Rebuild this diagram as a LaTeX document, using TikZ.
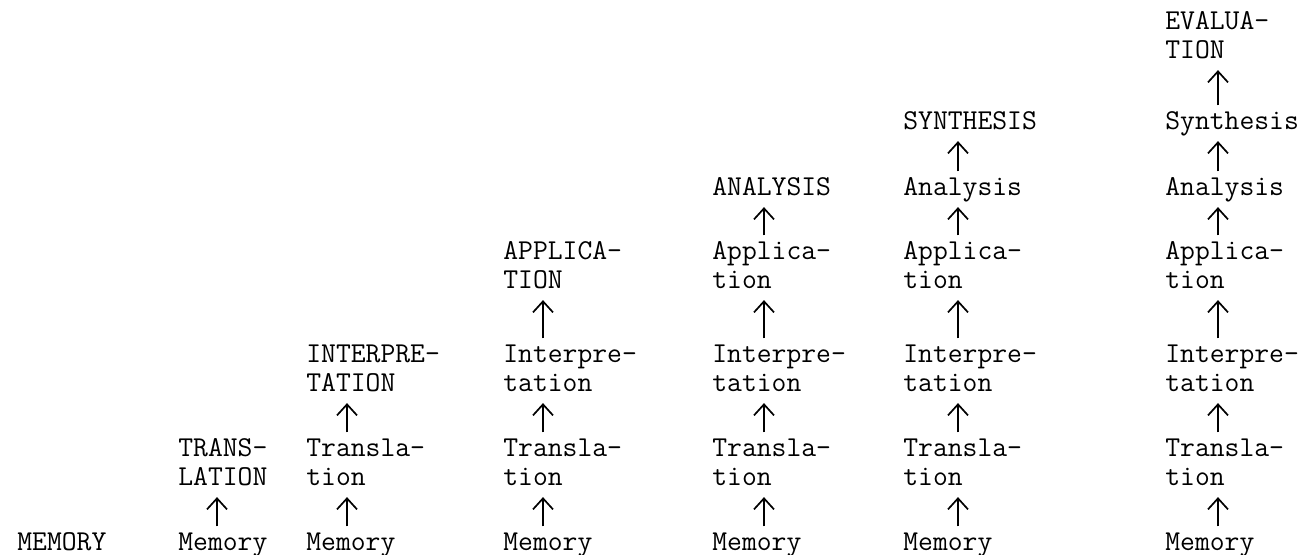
\documentclass[tikz,border=0pt]{standalone}
\usepackage{fontspec}
\usetikzlibrary{arrows.meta}
\newcommand\twoline[1]{\begin{tabular}[t]{@{}l@{}}#1\end{tabular}}
\begin{document}
\begin{tikzpicture}[x=0.5pt,y=-0.5pt,
  lab/.style={anchor=base west, inner sep=0pt, text=black,
    font=\ttfamily\fontsize{14.4}{14.5}\selectfont},
  up/.style={-{Straight Barb[length=5.5pt,width=10pt]}, line width=0.85pt,
    shorten >=1.5pt, shorten <=1.5pt}]
\fill[white] (0,0) rectangle (1308,554);
\useasboundingbox (0,0) rectangle (1308,554);
% column 1
\node[lab] (a1) at (17,550) {\twoline{MEMORY}};
% column 2
\node[lab] (b1) at (178,550) {\twoline{Memory}};
\node[lab] (b2) at (178,456) {\twoline{TRANS-\\LATION}};
% column 3
\node[lab] (c1) at (306,550) {\twoline{Memory}};
\node[lab] (c2) at (306,456) {\twoline{Transla-\\tion}};
\node[lab] (c3) at (306,362) {\twoline{INTERPRE-\\TATION}};
% column 4
\node[lab] (d1) at (503,550) {\twoline{Memory}};
\node[lab] (d2) at (503,456) {\twoline{Transla-\\tion}};
\node[lab] (d3) at (503,362) {\twoline{Interpre-\\tation}};
\node[lab] (d4) at (503,259) {\twoline{APPLICA-\\TION}};
% column 5
\node[lab] (e1) at (712,550) {\twoline{Memory}};
\node[lab] (e2) at (712,456) {\twoline{Transla-\\tion}};
\node[lab] (e3) at (712,362) {\twoline{Interpre-\\tation}};
\node[lab] (e4) at (712,259) {\twoline{Applica-\\tion}};
\node[lab] (e5) at (712,195) {\twoline{ANALYSIS}};
% column 6
\node[lab] (f1) at (903,550) {\twoline{Memory}};
\node[lab] (f2) at (903,456) {\twoline{Transla-\\tion}};
\node[lab] (f3) at (903,362) {\twoline{Interpre-\\tation}};
\node[lab] (f4) at (903,259) {\twoline{Applica-\\tion}};
\node[lab] (f5) at (903,195) {\twoline{Analysis}};
\node[lab] (f6) at (903,129) {\twoline{SYNTHESIS}};
% column 7
\node[lab] (g1) at (1165,550) {\twoline{Memory}};
\node[lab] (g2) at (1165,456) {\twoline{Transla-\\tion}};
\node[lab] (g3) at (1165,362) {\twoline{Interpre-\\tation}};
\node[lab] (g4) at (1165,259) {\twoline{Applica-\\tion}};
\node[lab] (g5) at (1165,195) {\twoline{Analysis}};
\node[lab] (g6) at (1165,129) {\twoline{Synthesis}};
\node[lab] (g7) at (1165,29) {\twoline{EVALUA-\\TION}};
% arrows
\foreach \lo/\hi/\dx in {b1/b2/19.5pt, c1/c2/20.5pt, c2/c3/20.5pt,
  d1/d2/20pt, d2/d3/20pt, d3/d4/20pt,
  e1/e2/26pt, e2/e3/26pt, e3/e4/26pt, e4/e5/26pt,
  f1/f2/27.5pt, f2/f3/27.5pt, f3/f4/27.5pt, f4/f5/27.5pt, f5/f6/27.5pt,
  g1/g2/26.5pt, g2/g3/26.5pt, g3/g4/26.5pt, g4/g5/26.5pt, g5/g6/26.5pt, g6/g7/26.5pt}
  \draw[up] ([xshift=\dx]\lo.north west) -- ([xshift=\dx]\hi.south west);
\end{tikzpicture}
\end{document}
